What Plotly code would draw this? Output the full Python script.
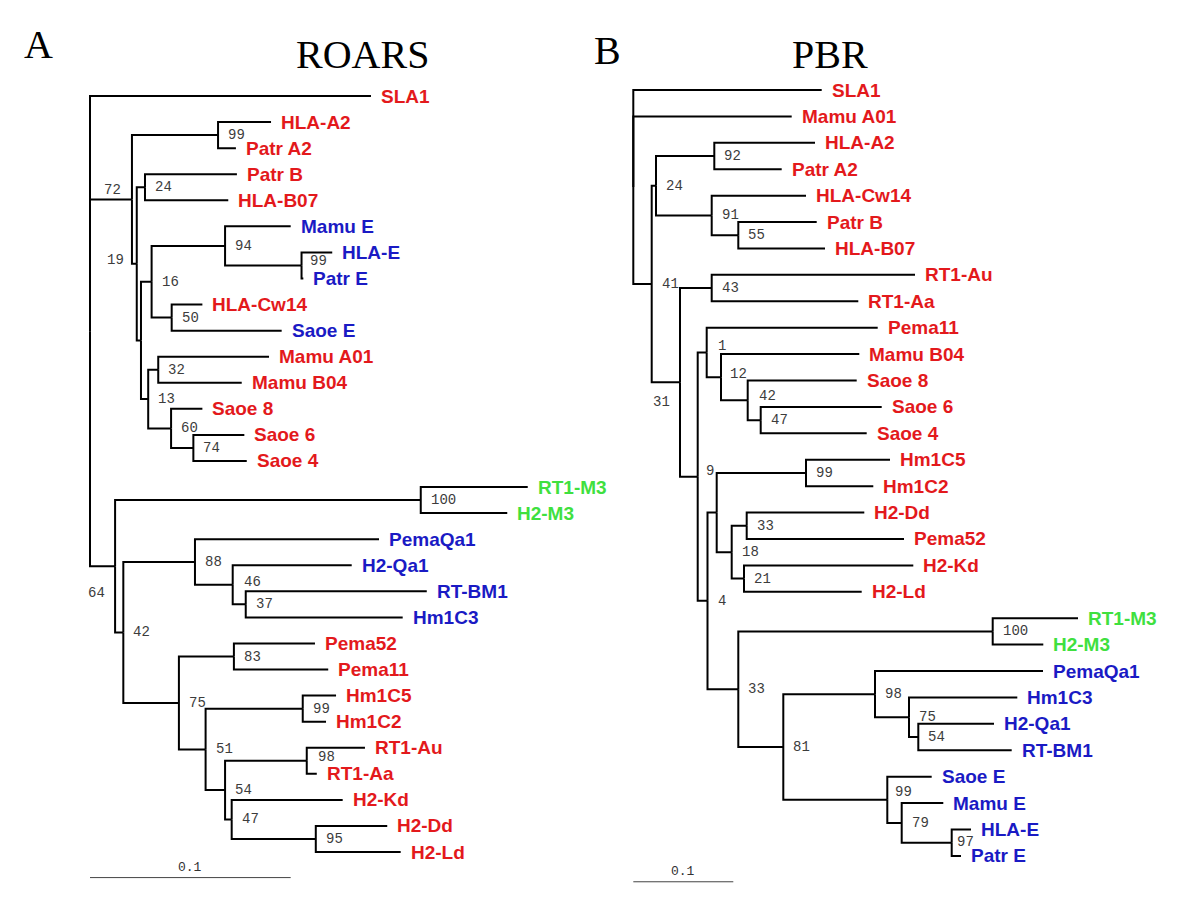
import plotly.graph_objects as go

# ---------------- DATA ----------------
# Tree A (ROARS): node name, parent, distance from root, bootstrap support
A_NAME = ["rootA", "SLA1", "a72", "a99a", "HLA-A2", "Patr A2", "a19", "a24", "Patr B", "HLA-B07",
          "aU", "a16", "a94", "Mamu E", "a99b", "HLA-E", "Patr E", "a50", "HLA-Cw14", "Saoe E",
          "a13", "a32", "Mamu A01", "Mamu B04", "a60", "Saoe 8", "a74", "Saoe 6", "Saoe 4",
          "a64", "a100", "RT1-M3", "H2-M3", "a42", "a88", "PemaQa1", "a46", "H2-Qa1", "a37",
          "RT-BM1", "Hm1C3", "a75", "a83", "Pema52", "Pema11", "a51", "a99c", "Hm1C5", "Hm1C2",
          "a54", "a98", "RT1-Au", "RT1-Aa", "a47", "H2-Kd", "a95", "H2-Dd", "H2-Ld"]
A_PARENT = [None, "rootA", "rootA", "a72", "a99a", "a99a", "a72", "a19", "a24", "a24",
            "a19", "aU", "a16", "a94", "a94", "a99b", "a99b", "a16", "a50", "a50",
            "aU", "a13", "a32", "a32", "a13", "a60", "a60", "a74", "a74",
            "rootA", "a64", "a100", "a100", "a64", "a42", "a88", "a88", "a46", "a46",
            "a37", "a37", "a42", "a75", "a83", "a83", "a75", "a51", "a99c", "a99c",
            "a51", "a54", "a98", "a98", "a54", "a47", "a47", "a95", "a95"]
A_DEPTH = [0.0, 0.1400, 0.0209, 0.0638, 0.0902, 0.0727, 0.0233, 0.0274, 0.0732, 0.0689,
           0.0254, 0.0307, 0.0673, 0.1000, 0.1054, 0.1207, 0.1063, 0.0407, 0.0560, 0.0955,
           0.0290, 0.0340, 0.0892, 0.0756, 0.0404, 0.0560, 0.0515, 0.0769, 0.0781,
           0.0125, 0.1648, 0.2181, 0.2079, 0.0166, 0.0523, 0.1440, 0.0711, 0.1304, 0.0776,
           0.1678, 0.1558, 0.0443, 0.0717, 0.1121, 0.1187, 0.0576, 0.1060, 0.1226, 0.1176,
           0.0673, 0.1080, 0.1370, 0.1130, 0.0706, 0.1259, 0.1125, 0.1481, 0.1548]
A_SUPPORT = ["", "", "72", "99", "", "", "19", "24", "", "",
             "", "16", "94", "", "99", "", "", "50", "", "",
             "13", "32", "", "", "60", "", "74", "", "",
             "64", "100", "", "", "42", "88", "", "46", "", "37",
             "", "", "75", "83", "", "", "51", "99", "", "",
             "54", "98", "", "", "47", "", "95", "", ""]

# Tree B (PBR)
B_NAME = ["rootB", "SLA1", "Mamu A01", "b41", "b24", "b92", "HLA-A2", "Patr A2", "b91", "HLA-Cw14",
          "b55", "Patr B", "HLA-B07", "b31", "b43", "RT1-Au", "RT1-Aa", "b9", "b1", "Pema11",
          "b12", "Mamu B04", "b42", "Saoe 8", "b47", "Saoe 6", "Saoe 4", "b4", "bU", "b99a",
          "Hm1C5", "Hm1C2", "b18", "b33a", "H2-Dd", "Pema52", "b21", "H2-Kd", "H2-Ld", "b33b",
          "b100", "RT1-M3", "H2-M3", "b81", "b98", "PemaQa1", "b75", "Hm1C3", "b54", "H2-Qa1",
          "RT-BM1", "b99b", "Saoe E", "b79", "Mamu E", "b97", "HLA-E", "Patr E"]
B_PARENT = [None, "rootB", "rootB", "rootB", "b41", "b24", "b92", "b92", "b24", "b91",
            "b91", "b55", "b55", "b41", "b31", "b43", "b43", "b31", "b9", "b1",
            "b1", "b12", "b12", "b42", "b42", "b47", "b47", "b9", "b4", "bU",
            "b99a", "b99a", "bU", "b18", "b33a", "b33a", "b18", "b21", "b21", "b4",
            "b33b", "b100", "b100", "b33b", "b81", "b98", "b98", "b75", "b75", "b54",
            "b54", "b81", "b99b", "b99b", "b79", "b79", "b97", "b97"]
B_DEPTH = [0.0, 0.1884, 0.1584, 0.0184, 0.0227, 0.0810, 0.1817, 0.1484, 0.0784, 0.1727,
           0.1050, 0.1834, 0.1917, 0.0467, 0.0784, 0.2817, 0.2250, 0.0644, 0.0734, 0.2444,
           0.0877, 0.2260, 0.1144, 0.2234, 0.1274, 0.2484, 0.2334, 0.0742, 0.0834, 0.1727,
           0.2567, 0.2400, 0.0984, 0.1134, 0.2310, 0.2707, 0.1107, 0.2800, 0.2284, 0.1050,
           0.3594, 0.4447, 0.4100, 0.1500, 0.2417, 0.4097, 0.2757, 0.3840, 0.2850, 0.3607,
           0.3784, 0.2540, 0.2984, 0.2684, 0.3100, 0.3184, 0.3377, 0.3277]
B_SUPPORT = ["", "", "", "41", "24", "92", "", "", "91", "",
             "55", "", "", "31", "43", "", "", "9", "1", "",
             "12", "", "42", "", "47", "", "", "4", "", "99",
             "", "", "18", "33", "", "", "21", "", "", "33",
             "100", "", "", "81", "98", "", "75", "", "54", "",
             "", "99", "", "79", "", "97", "", ""]

BLUE_LEAVES = ["Mamu E", "HLA-E", "Patr E", "Saoe E", "PemaQa1", "H2-Qa1", "RT-BM1", "Hm1C3"]
GREEN_LEAVES = ["RT1-M3", "H2-M3"]
SCALE_LENGTH = 0.1
TITLES = ["ROARS", "PBR"]
PANELS = ["A", "B"]

# ---------------- STYLE / LAYOUT ----------------
RED, BLUE, GREEN = "#e3191c", "#1a1ac4", "#3fe03f"
PAGE_OFF = 8                      # default body margin of the html page
W, H = 1200 - 2 * PAGE_OFF, 900 - 2 * PAGE_OFF
# page-pixel origin / scale of each panel
A_X0, A_PPU = 90.0, 2007.0
B_X0, B_PPU = 633.3, 1000.0
A_Y0, A_DY = 96.0, 26.07
B_Y0, B_DY = 90.0, 26.41

# bootstrap-label placement overrides: (xanchor, xshift, yshift)
A_LABEL_POS = {"a72": ("right", -9, 9), "a19": ("right", -11, 4), "a64": ("right", -8, -27),
               "a46": ("left", 9, 3), "a99b": ("left", 6, 4), "a98": ("left", 9, 4)}
B_LABEL_POS = {"b31": ("right", -8, -20), "b1": ("left", 9, 6), "b9": ("left", 6, 6),
               "b99b": ("left", 6, 8), "b42": ("left", 9, 4), "b12": ("left", 7, 3),
               "b97": ("left", 3, 1)}


def layout_tree(names, parents, depths):
    children = {n: [] for n in names}
    root = None
    for n, p in zip(names, parents):
        if p is None:
            root = n
        else:
            children[p].append(n)
    ypos = {}
    counter = [0]

    def visit(n):
        if not children[n]:
            ypos[n] = counter[0]
            counter[0] += 1
        else:
            for c in children[n]:
                visit(c)
            ypos[n] = (ypos[children[n][0]] + ypos[children[n][-1]]) / 2.0

    visit(root)
    depth = dict(zip(names, depths))
    xs, ys = [], []
    for n, p in zip(names, parents):
        if p is None:
            continue
        xs += [depth[p], depth[p], depth[n], None]
        ys += [ypos[p], ypos[n], ypos[n], None]
    leaves = [n for n in names if not children[n]]
    return xs, ys, ypos, depth, leaves


def color_of(name):
    if name in BLUE_LEAVES:
        return BLUE
    if name in GREEN_LEAVES:
        return GREEN
    return RED


fig = go.Figure()
annotations = []

trees = [
    (A_NAME, A_PARENT, A_DEPTH, A_SUPPORT, "x", "y", A_LABEL_POS),
    (B_NAME, B_PARENT, B_DEPTH, B_SUPPORT, "x2", "y2", B_LABEL_POS),
]

for names, parents, depths, support, xr, yr, label_pos in trees:
    xs, ys, ypos, depth, leaves = layout_tree(names, parents, depths)
    fig.add_trace(go.Scatter(x=xs, y=ys, mode="lines", xaxis=xr, yaxis=yr,
                             line=dict(color="black", width=2), hoverinfo="skip",
                             showlegend=False))
    for leaf in leaves:
        annotations.append(dict(x=depth[leaf], y=ypos[leaf], xref=xr, yref=yr,
                                text="<b>%s</b>" % leaf, showarrow=False,
                                xanchor="left", yanchor="middle", xshift=8,
                                font=dict(family="Liberation Sans, Arial", size=19,
                                          color=color_of(leaf))))
    for n, s in zip(names, support):
        if not s:
            continue
        anchor, dx, dy = label_pos.get(n, ("left", 8, 0))
        annotations.append(dict(x=depth[n], y=ypos[n], xref=xr, yref=yr, text=s,
                                showarrow=False, xanchor=anchor, yanchor="middle",
                                xshift=dx, yshift=dy,
                                font=dict(family="Liberation Mono, Courier New", size=14,
                                          color="#3c3c3c")))
    # scale bar
    ybar = len(leaves) - 1 + 0.98
    fig.add_trace(go.Scatter(x=[0, SCALE_LENGTH], y=[ybar, ybar], mode="lines",
                             xaxis=xr, yaxis=yr, line=dict(color="#444", width=1),
                             hoverinfo="skip", showlegend=False))
    annotations.append(dict(x=SCALE_LENGTH / 2, y=ybar, xref=xr, yref=yr, text="0.1",
                            showarrow=False, xanchor="center", yanchor="bottom", yshift=1,
                            font=dict(family="Liberation Mono, Courier New", size=13,
                                      color="#333")))

# panel letters and titles (page pixel centres)
for txt, px, py in [(PANELS[0], 38, 45), (TITLES[0], 362, 54), (PANELS[1], 607, 50), (TITLES[1], 830, 54)]:
    annotations.append(dict(x=(px - PAGE_OFF) / W, y=1 - (py - PAGE_OFF) / H,
                            xref="paper", yref="paper", text=txt,
                            showarrow=False, xanchor="center", yanchor="middle",
                            font=dict(family="Liberation Serif, Times New Roman", size=40,
                                      color="black")))

ax0 = A_X0 - PAGE_OFF
bx0 = B_X0 - PAGE_OFF
ay0 = A_Y0 - PAGE_OFF
by0 = B_Y0 - PAGE_OFF
fig.update_layout(
    width=W, height=H, margin=dict(l=0, r=0, t=0, b=0),
    paper_bgcolor="white", plot_bgcolor="white",
    xaxis=dict(domain=[0, 1], range=[-ax0 / A_PPU, (W - ax0) / A_PPU], visible=False),
    yaxis=dict(domain=[0, 1], range=[(H - ay0) / A_DY, -ay0 / A_DY], visible=False),
    xaxis2=dict(overlaying="x", anchor="y2", range=[-bx0 / B_PPU, (W - bx0) / B_PPU],
                visible=False),
    yaxis2=dict(overlaying="y", anchor="x2", range=[(H - by0) / B_DY, -by0 / B_DY],
                visible=False),
    annotations=annotations,
)

fig.write_html("out.html")
